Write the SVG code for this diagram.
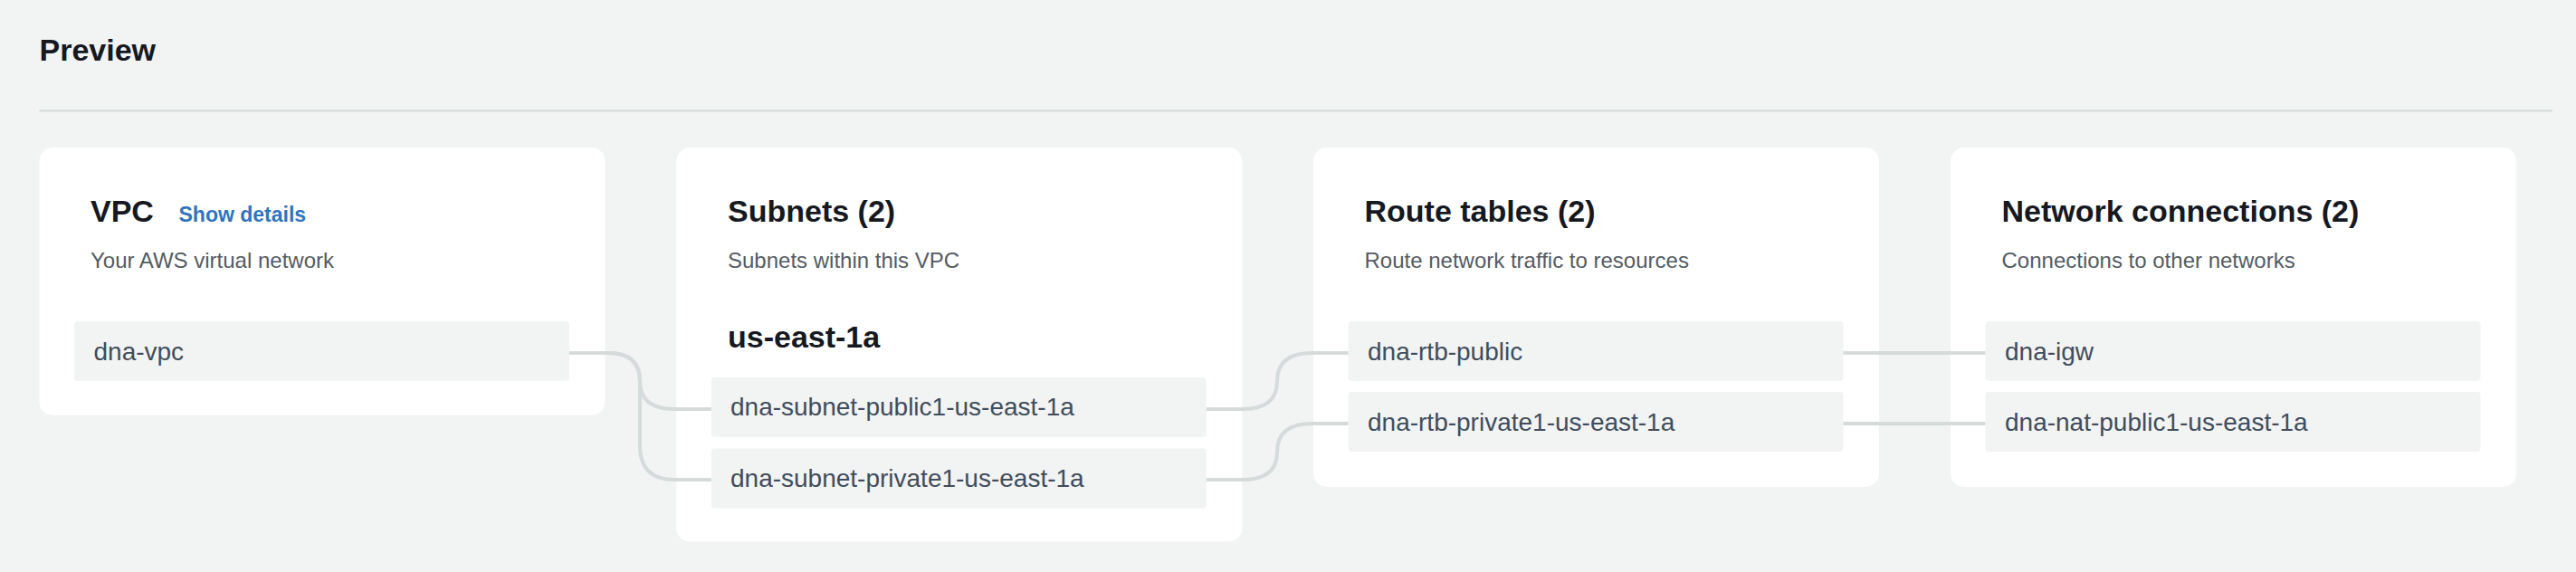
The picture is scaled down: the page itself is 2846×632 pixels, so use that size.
<svg xmlns="http://www.w3.org/2000/svg" width="2846" height="632" viewBox="0 0 2846 632">
<style>
.bg{fill:#f2f3f3}
.card{fill:#ffffff}
.item{fill:#f2f3f3}
.h1{font-family:"Liberation Sans",Arial,sans-serif;font-weight:bold;font-size:34px;fill:#16191f}
.title{font-family:"Liberation Sans",Arial,sans-serif;font-weight:bold;font-size:34px;fill:#16191f}
.sub{font-family:"Liberation Sans",Arial,sans-serif;font-size:24px;fill:#545b64}
.link{font-family:"Liberation Sans",Arial,sans-serif;font-weight:bold;font-size:23px;fill:#2f74be}
.lbl{font-family:"Liberation Sans",Arial,sans-serif;font-size:28px;fill:#414d5c}
.conn{fill:none;stroke:#d5dbdb;stroke-width:4}
</style>
<rect class="bg" x="0" y="0" width="2846" height="632"/>
<text class="h1" x="43.5" y="67">Preview</text>
<line x1="43.5" y1="122.5" x2="2820" y2="122.5" stroke="#d5dbdb" stroke-width="2"/>

<g id="card-vpc">
  <rect class="card" x="43.5" y="163" width="625" height="296" rx="15"/>
  <text class="title" x="100" y="245">VPC</text>
  <text class="link" x="197.5" y="245">Show details</text>
  <text class="sub" x="100" y="296">Your AWS virtual network</text>
  <g id="dna-vpc">
    <rect class="item" x="82" y="355" width="547" height="66" rx="4"/>
    <text class="lbl" x="103.5" y="398">dna-vpc</text>
  </g>
</g>

<g id="card-subnets">
  <rect class="card" x="747.3" y="163" width="625" height="435.5" rx="15"/>
  <text class="title" x="804" y="245">Subnets (2)</text>
  <text class="sub" x="804" y="296">Subnets within this VPC</text>
  <text class="title" x="804" y="384">us-east-1a</text>
  <g id="dna-subnet-public1-us-east-1a">
    <rect class="item" x="785.8" y="417" width="547" height="66" rx="4"/>
    <text class="lbl" x="807" y="459">dna-subnet-public1-us-east-1a</text>
  </g>
  <g id="dna-subnet-private1-us-east-1a">
    <rect class="item" x="785.8" y="495.5" width="547" height="66" rx="4"/>
    <text class="lbl" x="807" y="537.5">dna-subnet-private1-us-east-1a</text>
  </g>
</g>

<g id="card-route-tables">
  <rect class="card" x="1451" y="163" width="625" height="375" rx="15"/>
  <text class="title" x="1507.5" y="245">Route tables (2)</text>
  <text class="sub" x="1507.5" y="296">Route network traffic to resources</text>
  <g id="dna-rtb-public">
    <rect class="item" x="1489.5" y="355" width="547" height="66" rx="4"/>
    <text class="lbl" x="1511" y="398">dna-rtb-public</text>
  </g>
  <g id="dna-rtb-private1-us-east-1a">
    <rect class="item" x="1489.5" y="433" width="547" height="66" rx="4"/>
    <text class="lbl" x="1511" y="476">dna-rtb-private1-us-east-1a</text>
  </g>
</g>

<g id="card-network-connections">
  <rect class="card" x="2155" y="163" width="625" height="375" rx="15"/>
  <text class="title" x="2211.5" y="245">Network connections (2)</text>
  <text class="sub" x="2211.5" y="296">Connections to other networks</text>
  <g id="dna-igw">
    <rect class="item" x="2193.5" y="355" width="547" height="66" rx="4"/>
    <text class="lbl" x="2215" y="398">dna-igw</text>
  </g>
  <g id="dna-nat-public1-us-east-1a">
    <rect class="item" x="2193.5" y="433" width="547" height="66" rx="4"/>
    <text class="lbl" x="2215" y="476">dna-nat-public1-us-east-1a</text>
  </g>
</g>

<g id="connectors">
  <path class="conn" d="M629,390 H672 Q707,390 707,421 Q707,452 745,452 H785.8"/>
  <path class="conn" d="M629,390 H672 Q707,390 707,421 V492 Q707,530 745,530 H785.8"/>
  <path class="conn" d="M1332.8,452 H1373 Q1411,452 1411,421 Q1411,390 1450,390 H1489.5"/>
  <path class="conn" d="M1332.8,530 H1373 Q1411,530 1411,499 Q1411,468 1450,468 H1489.5"/>
  <path class="conn" d="M2036.5,390 H2193.5"/>
  <path class="conn" d="M2036.5,468 H2193.5"/>
</g>
</svg>
